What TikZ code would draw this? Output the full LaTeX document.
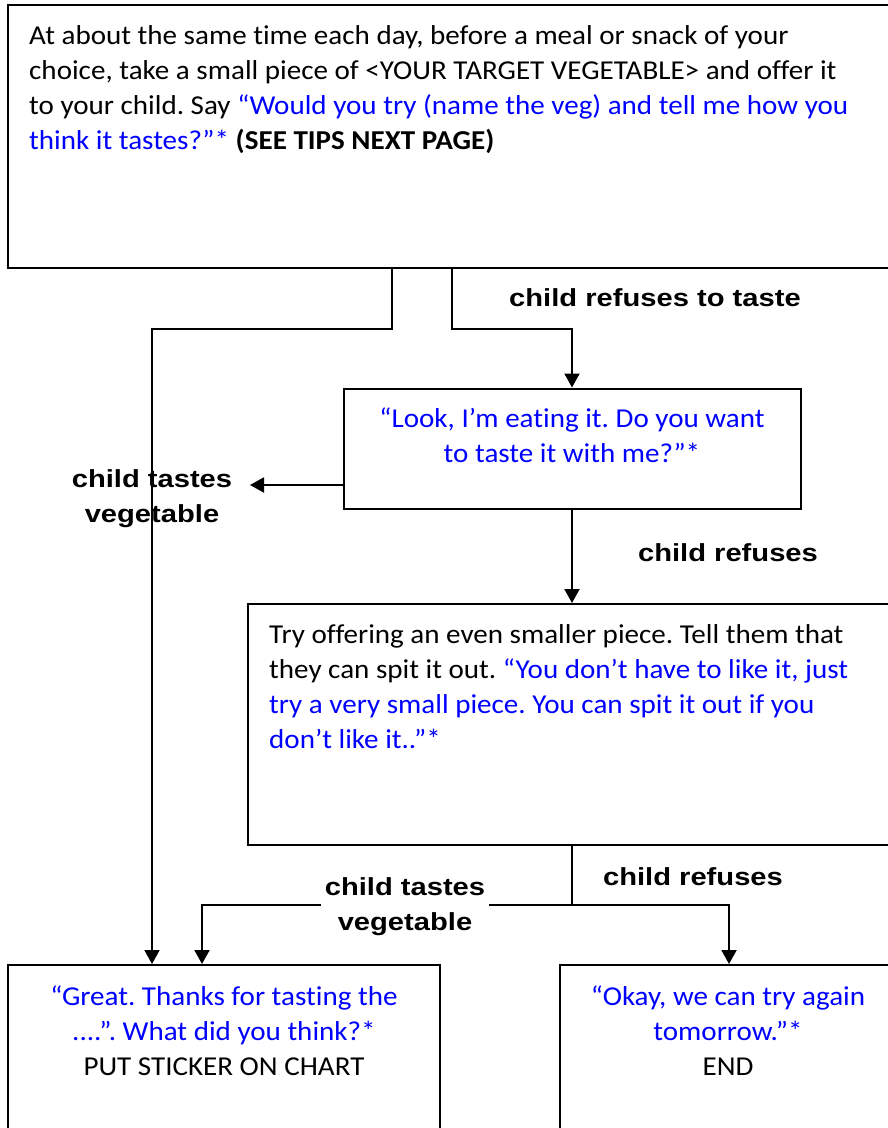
\documentclass[tikz,border=0pt]{standalone}
\usepackage{fontspec}
\setmainfont{Carlito}[FakeStretch=1.065,Ligatures={NoCommon}]
\newfontfamily\labfont{Liberation Sans}[FakeStretch=1.18]
\usetikzlibrary{arrows.meta}
\definecolor{qblue}{RGB}{0,0,255}
\newcommand{\bodyfs}{\fontsize{27.3}{35}\selectfont}
\newcommand{\labfs}{\labfont\bfseries\fontsize{24.7}{35}\selectfont}
\newcommand{\fr}{\rule{0pt}{25pt}}
\frenchspacing
\begin{document}
\begin{tikzpicture}[x=1pt,y=-1pt,
  boxnode/.style={draw=black,line width=2pt,rectangle,inner sep=0pt},
  bodytext/.style={inner sep=0pt,font=\bodyfs},
  labtext/.style={inner sep=0pt,font=\labfs},
  conn/.style={draw=black,line width=2pt},
  arr/.style={conn,-{Triangle[length=14pt,width=15pt]}}]
\useasboundingbox (0,0) rectangle (888,1128);
\clip (0,0) rectangle (888,1128);
\fill[white] (0,0) rectangle (888,1128);
% boxes
\node[boxnode,minimum width=894pt,minimum height=263pt] (b1) at (455,136.5) {};
\node[boxnode,minimum width=457pt,minimum height=120pt] (b2) at (572.5,448.5) {};
\node[boxnode,minimum width=654pt,minimum height=241pt] (b3) at (575,724.5) {};
\node[boxnode,minimum width=432pt,minimum height=180pt] (b4) at (224,1055) {};
\node[boxnode,minimum width=342pt,minimum height=180pt] (b5) at (731,1055) {};
% texts
\node[bodytext,anchor=north west,align=left] (t1) at (29,19.3)
  {\fr At about the same time each day, before a meal or snack of your\\
   choice, take a small piece of <YOUR TARGET VEGETABLE> and offer it\\
   to your child. Say {\color{qblue}“Would you try (name the veg) and tell me how you}\\
   {\color{qblue}think it tastes?”*} \textbf{(SEE TIPS NEXT PAGE)}};
\node[bodytext,anchor=north,align=center,text=qblue] (t2) at (572,402.5)
  {\fr “Look, I’m eating it. Do you want\\ to taste it with me?”*};
\node[bodytext,anchor=north west,align=left] (t3) at (269,618.3)
  {\fr Try offering an even smaller piece. Tell them that\\
   they can spit it out. {\color{qblue}“You don’t have to like it, just}\\
   {\color{qblue}try a very small piece. You can spit it out if you}\\
   {\color{qblue}don’t like it..”*}};
\node[bodytext,anchor=north,align=center] (t4) at (224,980)
  {\fr{\color{qblue}“Great. Thanks for tasting the}\\
   {\color{qblue}....”. What did you think?*}\\ PUT STICKER ON CHART};
\node[bodytext,anchor=north,align=center] (t5) at (728,980)
  {\fr{\color{qblue}“Okay, we can try again}\\
   {\color{qblue}tomorrow.”*}\\ END};
% bend points
\coordinate (k1) at (392,329);
\coordinate (k2) at (152,329);
\coordinate (k3) at (452,329);
\coordinate (k4) at (572,329);
\coordinate (k5) at (250,485);
\coordinate (k6) at (572,905);
\coordinate (k7) at (202,905);
\coordinate (k8) at (729,905);
% connectors
\draw[arr] (b1.south -| k1) -- (k1) -- (k2) -- (k2 |- b4.north);
\draw[arr] (b1.south -| k3) -- (k3) -- (k4) -- (k4 |- b2.north);
\draw[arr] (b2.west |- k5) -- (k5);
\draw[arr] (b2.south -| k4) -- (b3.north -| k4);
\draw[conn] (b3.south -| k6) -- (k6);
\draw[arr] (k6) -- (k7) -- (k7 |- b4.north);
\draw[arr] (k6) -- (k8) -- (k8 |- b5.north);
% labels
\node[labtext,anchor=base] (l1) at (655,306) {child refuses to taste};
\node[labtext,anchor=north,align=center] (l2) at (152,462) {\fr child tastes\\ vegetable};
\node[labtext,anchor=base] (l3) at (728,561.5) {child refuses};
\node[labtext,anchor=north,align=center,fill=white,inner xsep=4pt,inner ysep=0pt] (l4) at (405,870) {\fr child tastes\\ vegetable};
\node[labtext,anchor=base] (l5) at (693,885) {child refuses};
\end{tikzpicture}
\end{document}
